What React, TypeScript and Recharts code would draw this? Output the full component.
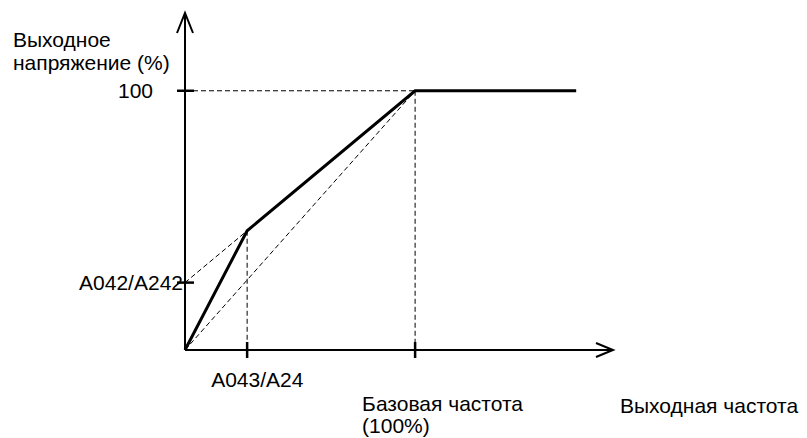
import React from "react";
import { LineChart, Line, XAxis, YAxis, ReferenceLine, ReferenceDot, Label } from "recharts";

// Output frequency (% of base frequency) and output voltage (%)
const freqPoints = [0, 27, 100, 170];
const voltPoints = [0, 46, 100, 100];
const baseFreq = 100;
const breakFreq = 27; // A043/A24
const breakVolt = 46;
const boostVolt = 26; // A042/A242
const xMax = 186;
const yMax = 130;

const xTickValues = [27, 100];
const xTickLabels = [["A043/A24"], ["Базовая частота", "(100%)"]];
const yTickValues = [26, 100];
const yTickLabels = ["A042/A242", "100"];
const yTitle = ["Выходное", "напряжение (%)"];
const xTitle = "Выходная частота";

const data = freqPoints.map((f, i) => ({ f, v: voltPoints[i] }));

const FONT = "'Liberation Sans', Arial, sans-serif";
const FS = 21;

const XTick = (props: any) => {
  const { x, y, payload, index } = props;
  const lines = xTickLabels[xTickValues.indexOf(payload.value)] || [];
  const dx = index === 0 ? -36 : -53;
  const base = index === 0 ? 37 : 61;
  return (
    <g>
      <line x1={x} x2={x} y1={y - 8} y2={y + 8} stroke="#000" strokeWidth={2.5} />
      {lines.map((t: string, i: number) => (
        <text key={i} x={x + dx} y={y + base + i * 22} fontSize={FS} fontFamily={FONT} fill="#000" textAnchor="start">
          {t}
        </text>
      ))}
    </g>
  );
};

const YTick = (props: any) => {
  const { x, y, payload } = props;
  const label = yTickLabels[yTickValues.indexOf(payload.value)] || "";
  const isTop = payload.value === 100;
  return (
    <g>
      <line x1={x - 8} x2={x + 9} y1={y} y2={y} stroke="#000" strokeWidth={2.5} />
      <text x={isTop ? x - 32 : x - 2} y={y + 7.5} fontSize={FS} fontFamily={FONT} fill="#000" textAnchor="end">
        {label}
      </text>
    </g>
  );
};

const XArrow = (props: any) => {
  const { cx, cy } = props;
  return <path d={`M${cx - 17},${cy - 7} L${cx},${cy} L${cx - 17},${cy + 7}`} fill="none" stroke="#000" strokeWidth={2} />;
};

const YArrow = (props: any) => {
  const { cx, cy } = props;
  return <path d={`M${cx - 8},${cy + 20} L${cx},${cy} L${cx + 8},${cy + 20}`} fill="none" stroke="#000" strokeWidth={2} />;
};

const dash = { stroke: "#000", strokeWidth: 1, strokeDasharray: "5 3" };

export default function App() {
  return (
    <div style={{ position: "absolute", left: 0, top: 0, width: 807, height: 438, background: "#fff" }}>
      <LineChart width={807} height={438} data={data} margin={{ top: 13, right: 194, bottom: 58, left: 125 }}>
        <XAxis
          dataKey="f"
          type="number"
          domain={[0, xMax]}
          ticks={xTickValues}
          interval={0}
          tickLine={false}
          tickSize={0}
          tickMargin={0}
          height={30}
          axisLine={{ stroke: "#000", strokeWidth: 2 }}
          tick={<XTick />}
        >
          <Label
            content={(p: any) => {
              const vb = p.viewBox;
              return (
                <text x={vb.x + vb.width + 7} y={vb.y + 63} fontSize={FS} fontFamily={FONT} fill="#000">
                  {xTitle}
                </text>
              );
            }}
          />
        </XAxis>
        <YAxis
          type="number"
          domain={[0, yMax]}
          ticks={yTickValues}
          interval={0}
          tickLine={false}
          tickSize={0}
          tickMargin={0}
          width={60}
          axisLine={{ stroke: "#000", strokeWidth: 2 }}
          tick={<YTick />}
        >
          <Label
            content={(p: any) => {
              const vb = p.viewBox;
              return (
                <g>
                  {yTitle.map((t, i) => (
                    <text key={i} x={vb.x - 112} y={vb.y + 34 + i * 23} fontSize={FS} fontFamily={FONT} fill="#000">
                      {t}
                    </text>
                  ))}
                </g>
              );
            }}
          />
        </YAxis>
        <ReferenceLine segment={[{ x: 0, y: 100 }, { x: baseFreq, y: 100 }]} {...dash} ifOverflow="visible" />
        <ReferenceLine segment={[{ x: baseFreq, y: 100 }, { x: baseFreq, y: 0 }]} {...dash} ifOverflow="visible" />
        <ReferenceLine segment={[{ x: breakFreq, y: breakVolt }, { x: breakFreq, y: 0 }]} {...dash} ifOverflow="visible" />
        <ReferenceLine segment={[{ x: 0, y: 0 }, { x: baseFreq, y: 100 }]} {...dash} ifOverflow="visible" />
        <ReferenceLine segment={[{ x: 0, y: boostVolt }, { x: breakFreq, y: breakVolt }]} {...dash} ifOverflow="visible" />
        <Line
          dataKey="v"
          type="linear"
          stroke="#000"
          strokeWidth={3}
          dot={false}
          activeDot={false}
          isAnimationActive={false}
        />
        <ReferenceDot x={xMax} y={0} r={0} ifOverflow="visible" shape={<XArrow />} />
        <ReferenceDot x={0} y={yMax} r={0} ifOverflow="visible" shape={<YArrow />} />
      </LineChart>
    </div>
  );
}
